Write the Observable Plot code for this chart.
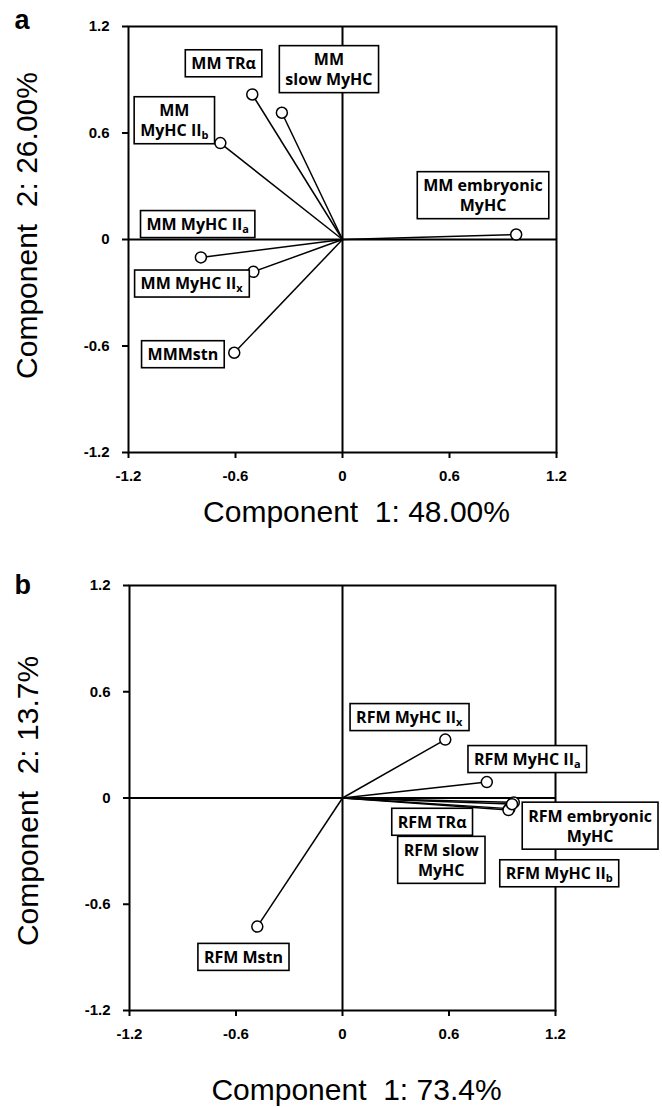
<!DOCTYPE html>
<html><head><meta charset="utf-8">
<script src="https://cdn.jsdelivr.net/npm/d3@7"></script>
<script src="https://cdn.jsdelivr.net/npm/@observablehq/plot@0.6"></script>
<style>
body{margin:0;background:#fff;}
svg{display:block}
</style></head><body>
<div id="a"></div><div id="b"></div>
<script>
// ---- shared axis ticks ----
const ticks = [-1.2, -0.6, 0, 0.6, 1.2];
const tickLabels = ["-1.2", "-0.6", "0", "0.6", "1.2"];

// ---- panel a ----
const labelsA = ["MM TRα", "MM\nslow MyHC", "MM\nMyHC II_b", "MM embryonic\nMyHC", "MM MyHC II_a", "MM MyHC II_x", "MMMstn"];
const comp1A = [-0.506, -0.34, -0.685, 0.974, -0.794, -0.50, -0.607];
const comp2A = [0.817, 0.714, 0.543, 0.028, -0.101, -0.182, -0.638];
const labelXA = [-0.667, -0.076, -0.943, 0.788, -0.812, -0.846, -0.895];
const labelYA = [0.995, 0.962, 0.677, 0.252, 0.092, -0.243, -0.644];

// ---- panel b ----
const labelsB = ["RFM MyHC II_x", "RFM MyHC II_a", "RFM TRα", "RFM slow\nMyHC", "RFM embryonic\nMyHC", "RFM MyHC II_b", "RFM Mstn"];
const comp1B = [0.579, 0.813, 0.94, 0.935, 0.965, 0.955, -0.48];
const comp2B = [0.33, 0.09, -0.06, -0.068, -0.025, -0.035, -0.726];
const labelXB = [0.376, 1.041, 0.505, 0.556, 1.395, 1.221, -0.558];
const labelYB = [0.462, 0.225, -0.132, -0.347, -0.154, -0.42, -0.895];

const fmt = d => tickLabels[ticks.findIndex(t => Math.abs(t - d) < 1e-9)] ?? String(d);

function panel(o) {
  const pts = o.labels.map((l, i) => ({label: l, x: o.c1[i], y: o.c2[i], lx: o.lx[i], ly: o.ly[i]}));
  return Plot.plot({
    width: 662, height: o.height,
    marginTop: o.mt, marginBottom: o.mb, marginLeft: o.ml, marginRight: o.mr,
    style: {fontFamily: "'Liberation Sans', Arial, sans-serif", background: "#fff", color: "#000"},
    x: {domain: [-1.2, 1.2]},
    y: {domain: [-1.2, 1.2]},
    marks: [
      Plot.frame({stroke: "#000", strokeWidth: 2}),
      Plot.ruleX([0], {stroke: "#000", strokeWidth: 2}),
      Plot.ruleY([0], {stroke: "#000", strokeWidth: 2}),
      Plot.axisX({ticks, tickFormat: fmt, tickSize: 6, tickPadding: 12, fontSize: 15, fontWeight: "bold", label: null, strokeWidth: 2}),
      Plot.axisY({ticks, tickFormat: fmt, tickSize: 6, tickPadding: 13, fontSize: 15, fontWeight: "bold", label: null, strokeWidth: 2}),
      Plot.link(pts, {x1: 0, y1: 0, x2: "x", y2: "y", stroke: "#000", strokeWidth: 1.5}),
      Plot.dot(pts, {x: "x", y: "y", r: 5.5, fill: "#fff", stroke: "#000", strokeWidth: 1.5}),
      Plot.text(pts, {x: "lx", y: "ly", text: "label", fontSize: 16, fontWeight: "bold", fontFamily: "'Open Sans', sans-serif", lineHeight: 1.25, fill: "#000"}),
      Plot.text([o.yTitle], {frameAnchor: "left", rotate: -90, dx: -113, dy: o.yDy, lineAnchor: "top", textAnchor: "middle", fontSize: 30, fill: "#000"}),
      Plot.text([o.xTitle], {frameAnchor: "bottom", dx: 14, dy: o.xDy, lineAnchor: "middle", textAnchor: "middle", fontSize: 30, fill: "#000"}),
      Plot.text([o.letter], {frameAnchor: "top-left", dx: o.letDx, dy: o.letDy, lineAnchor: "bottom", textAnchor: "start", fontSize: 27, fontWeight: "bold", fill: "#000"})
    ]
  });
}

function boxify(svg) {
  const NS = "http://www.w3.org/2000/svg";
  const g = svg.querySelectorAll('g[aria-label="text"]')[0];
  if (!g) return;
  g.querySelectorAll(":scope > text").forEach(t => {
    const spans = t.querySelectorAll("tspan");
    const nodes = spans.length ? Array.from(spans) : [t];
    nodes.forEach(n => {
      const s = n.textContent;
      const k = s.indexOf("_");
      if (k >= 0) {
        n.textContent = s.slice(0, k);
        const sub = document.createElementNS(NS, "tspan");
        sub.setAttribute("font-size", "11");
        sub.setAttribute("dy", "3");
        sub.textContent = s.slice(k + 1);
        n.appendChild(sub);
      }
    });
    const nLines = spans.length || 1;
    const bb = t.getBBox();
    const w = bb.width + 12, h = nLines * 20 + 7;
    const cx = bb.x + bb.width / 2, cy = bb.y + bb.height / 2;
    const r = document.createElementNS(NS, "rect");
    r.setAttribute("x", cx - w / 2);
    r.setAttribute("y", cy - h / 2);
    r.setAttribute("width", w);
    r.setAttribute("height", h);
    r.setAttribute("fill", "#fff");
    r.setAttribute("stroke", "#000");
    r.setAttribute("stroke-width", "1.6");
    const tr = t.getAttribute("transform");
    if (tr) r.setAttribute("transform", tr);
    t.parentNode.insertBefore(r, t);
  });
}

const svgA = panel({labels: labelsA, c1: comp1A, c2: comp2A, lx: labelXA, ly: labelYA,
  height: 553, mt: 26, mb: 101, ml: 128, mr: 106,
  yTitle: "Component  2: 26.00%", xTitle: "Component  1: 48.00%", yDy: -14, xDy: 60,
  letter: "a", letDx: -114, letDy: 2});
const svgB = panel({labels: labelsB, c1: comp1B, c2: comp2B, lx: labelXB, ly: labelYB,
  height: 554, mt: 32, mb: 97, ml: 129, mr: 107,
  yTitle: "Component  2: 13.7%", xTitle: "Component  1: 73.4%", yDy: 3, xDy: 80,
  letter: "b", letDx: -115, letDy: 8});
document.getElementById("a").appendChild(svgA);
document.getElementById("b").appendChild(svgB);
boxify(svgA);
boxify(svgB);
</script>
</body></html>
